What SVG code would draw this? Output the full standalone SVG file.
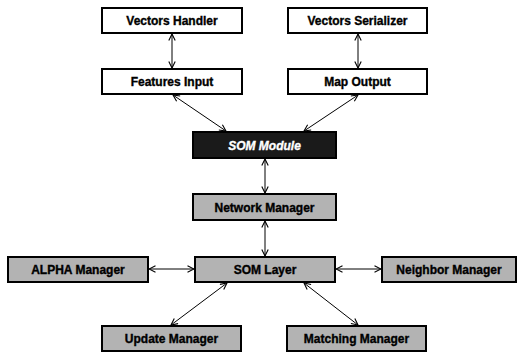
<svg xmlns="http://www.w3.org/2000/svg" width="518" height="354" viewBox="0 0 518 354">
  <style>
    .box { stroke: #000; stroke-width: 2; }
    .white { fill: #ffffff; }
    .dark { fill: #1a1a1a; }
    .gray { fill: #b3b3b3; }
    .label { font-family: "Liberation Sans", Arial, sans-serif; font-weight: bold; font-size: 12px; text-anchor: middle; fill: #000; stroke: #000; stroke-width: 0.35; }
    .inv { fill: #ffffff; stroke: #ffffff; font-style: italic; }
    .conn { stroke: #000; stroke-width: 1; fill: none; marker-start: url(#head); marker-end: url(#head); }
  </style>
  <defs>
    <marker id="head" viewBox="0 0 8 8" refX="7.5" refY="4" markerWidth="8" markerHeight="8" markerUnits="userSpaceOnUse" orient="auto-start-reverse">
      <path d="M1,0.8 L7.5,4 L1,7.2" fill="none" stroke="#000" stroke-width="1.1"/>
    </marker>
  </defs>
  <rect width="518" height="354" fill="#ffffff"/>

  <g id="connectors">
    <line class="conn" x1="172" y1="34" x2="172" y2="68"/>
    <line class="conn" x1="358" y1="34" x2="358" y2="68"/>
    <line class="conn" x1="173" y1="95" x2="226" y2="131"/>
    <line class="conn" x1="358" y1="95" x2="304" y2="131"/>
    <line class="conn" x1="265" y1="159" x2="265" y2="193"/>
    <line class="conn" x1="265" y1="221" x2="265" y2="256"/>
    <line class="conn" x1="149" y1="269" x2="194" y2="269"/>
    <line class="conn" x1="336" y1="269" x2="381" y2="269"/>
    <line class="conn" x1="227" y1="283" x2="171" y2="325"/>
    <line class="conn" x1="304" y1="283" x2="358" y2="325"/>
  </g>

  <g id="vectors-handler">
    <rect class="box white" x="102" y="8" width="140" height="25"/>
    <text class="label" x="172" y="25">Vectors Handler</text>
  </g>
  <g id="vectors-serializer">
    <rect class="box white" x="288" y="8" width="139" height="25"/>
    <text class="label" x="357.5" y="25">Vectors Serializer</text>
  </g>
  <g id="features-input">
    <rect class="box white" x="102" y="69" width="140" height="25"/>
    <text class="label" x="172" y="86">Features Input</text>
  </g>
  <g id="map-output">
    <rect class="box white" x="288" y="69" width="139" height="25"/>
    <text class="label" x="357.5" y="86">Map Output</text>
  </g>
  <g id="som-module">
    <rect class="box dark" x="193" y="132" width="143" height="26"/>
    <text class="label inv" x="264.5" y="149.5">SOM Module</text>
  </g>
  <g id="network-manager">
    <rect class="box gray" x="193" y="194" width="143" height="26"/>
    <text class="label" x="264.5" y="211.5">Network Manager</text>
  </g>
  <g id="alpha-manager">
    <rect class="box gray" x="8" y="257" width="140" height="25"/>
    <text class="label" x="78" y="274">ALPHA Manager</text>
  </g>
  <g id="som-layer">
    <rect class="box gray" x="195" y="257" width="140" height="25"/>
    <text class="label" x="265" y="274">SOM Layer</text>
  </g>
  <g id="neighbor-manager">
    <rect class="box gray" x="382" y="257" width="134" height="25"/>
    <text class="label" x="449" y="274">Neighbor Manager</text>
  </g>
  <g id="update-manager">
    <rect class="box gray" x="102" y="326" width="139" height="25"/>
    <text class="label" x="171.5" y="343">Update Manager</text>
  </g>
  <g id="matching-manager">
    <rect class="box gray" x="287" y="326" width="139" height="25"/>
    <text class="label" x="356.5" y="343">Matching Manager</text>
  </g>
</svg>
